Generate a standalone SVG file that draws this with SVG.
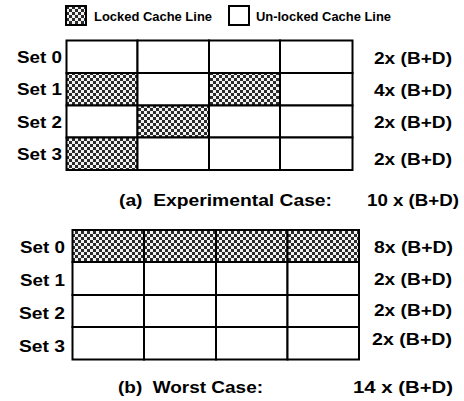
<svg xmlns="http://www.w3.org/2000/svg" width="464" height="401" viewBox="0 0 464 401">
<defs>
<pattern id="chk" x="0" y="0" width="6" height="6" patternUnits="userSpaceOnUse">
<rect width="6" height="6" fill="#f2f2f2"/>
<rect x="0" y="0" width="3" height="3" fill="#2b2b2b"/>
<rect x="3" y="3" width="3" height="3" fill="#2b2b2b"/>
</pattern>
</defs>
<style>
text{font-family:"Liberation Sans",Arial,sans-serif;font-weight:bold;fill:#000}
.lab{font-size:17px}
.leg{font-size:12.5px}
.cell{fill:#fff;stroke:#000;stroke-width:2}
.lk{fill:url(#chk);stroke:#000;stroke-width:2}
</style>
<rect width="464" height="401" fill="#fff"/>
<g id="legend">
<rect class="lk" x="66" y="6" width="20" height="19"/>
<text class="leg" x="94" y="21" textLength="118" lengthAdjust="spacingAndGlyphs">Locked Cache Line</text>
<rect class="cell" x="229" y="6" width="20" height="19"/>
<text class="leg" x="256" y="21" textLength="135" lengthAdjust="spacingAndGlyphs">Un-locked Cache Line</text>
</g>
<g id="gridA">
<rect class="cell" x="66.5" y="40.5" width="71" height="32.5"/>
<rect class="cell" x="137.5" y="40.5" width="71.5" height="32.5"/>
<rect class="cell" x="209" y="40.5" width="71" height="32.5"/>
<rect class="cell" x="280" y="40.5" width="72.5" height="32.5"/>
<rect class="lk" x="66.5" y="73" width="71" height="32.5"/>
<rect class="cell" x="137.5" y="73" width="71.5" height="32.5"/>
<rect class="lk" x="209" y="73" width="71" height="32.5"/>
<rect class="cell" x="280" y="73" width="72.5" height="32.5"/>
<rect class="cell" x="66.5" y="105.5" width="71" height="32"/>
<rect class="lk" x="137.5" y="105.5" width="71.5" height="32"/>
<rect class="cell" x="209" y="105.5" width="71" height="32"/>
<rect class="cell" x="280" y="105.5" width="72.5" height="32"/>
<rect class="lk" x="66.5" y="137.5" width="71" height="32.5"/>
<rect class="cell" x="137.5" y="137.5" width="71.5" height="32.5"/>
<rect class="cell" x="209" y="137.5" width="71" height="32.5"/>
<rect class="cell" x="280" y="137.5" width="72.5" height="32.5"/>
</g>
<g id="labelsA">
<text class="lab" x="17" y="63" textLength="45" lengthAdjust="spacingAndGlyphs">Set 0</text>
<text class="lab" x="17" y="95" textLength="45" lengthAdjust="spacingAndGlyphs">Set 1</text>
<text class="lab" x="17" y="128" textLength="45" lengthAdjust="spacingAndGlyphs">Set 2</text>
<text class="lab" x="17" y="160" textLength="45" lengthAdjust="spacingAndGlyphs">Set 3</text>
<text class="lab" x="374" y="64" textLength="78" lengthAdjust="spacingAndGlyphs">2x (B+D)</text>
<text class="lab" x="374" y="96" textLength="78" lengthAdjust="spacingAndGlyphs">4x (B+D)</text>
<text class="lab" x="374" y="128" textLength="78" lengthAdjust="spacingAndGlyphs">2x (B+D)</text>
<text class="lab" x="374" y="165" textLength="78" lengthAdjust="spacingAndGlyphs">2x (B+D)</text>
<text class="lab" x="119" y="206" textLength="213" lengthAdjust="spacingAndGlyphs" xml:space="preserve">(a)  Experimental Case:</text>
<text class="lab" x="367" y="206" textLength="92" lengthAdjust="spacingAndGlyphs">10 x (B+D)</text>
</g>
<g id="gridB">
<rect class="lk" x="72.5" y="230" width="71.5" height="32"/>
<rect class="lk" x="144" y="230" width="72" height="32"/>
<rect class="lk" x="216" y="230" width="71.5" height="32"/>
<rect class="lk" x="287.5" y="230" width="71.5" height="32"/>
<rect class="cell" x="72.5" y="262" width="71.5" height="33"/>
<rect class="cell" x="144" y="262" width="72" height="33"/>
<rect class="cell" x="216" y="262" width="71.5" height="33"/>
<rect class="cell" x="287.5" y="262" width="71.5" height="33"/>
<rect class="cell" x="72.5" y="295" width="71.5" height="32"/>
<rect class="cell" x="144" y="295" width="72" height="32"/>
<rect class="cell" x="216" y="295" width="71.5" height="32"/>
<rect class="cell" x="287.5" y="295" width="71.5" height="32"/>
<rect class="cell" x="72.5" y="327" width="71.5" height="32.5"/>
<rect class="cell" x="144" y="327" width="72" height="32.5"/>
<rect class="cell" x="216" y="327" width="71.5" height="32.5"/>
<rect class="cell" x="287.5" y="327" width="71.5" height="32.5"/>
</g>
<g id="labelsB">
<text class="lab" x="20" y="253" textLength="45" lengthAdjust="spacingAndGlyphs">Set 0</text>
<text class="lab" x="20" y="286" textLength="45" lengthAdjust="spacingAndGlyphs">Set 1</text>
<text class="lab" x="19" y="319" textLength="46" lengthAdjust="spacingAndGlyphs">Set 2</text>
<text class="lab" x="19" y="352" textLength="46" lengthAdjust="spacingAndGlyphs">Set 3</text>
<text class="lab" x="374" y="253" textLength="79" lengthAdjust="spacingAndGlyphs">8x (B+D)</text>
<text class="lab" x="374" y="285" textLength="78" lengthAdjust="spacingAndGlyphs">2x (B+D)</text>
<text class="lab" x="374" y="316" textLength="78" lengthAdjust="spacingAndGlyphs">2x (B+D)</text>
<text class="lab" x="372" y="345" textLength="80" lengthAdjust="spacingAndGlyphs">2x (B+D)</text>
<text class="lab" x="118" y="393" textLength="145" lengthAdjust="spacingAndGlyphs" xml:space="preserve">(b)  Worst Case:</text>
<text class="lab" x="353" y="393" textLength="100" lengthAdjust="spacingAndGlyphs">14 x (B+D)</text>
</g>
</svg>
